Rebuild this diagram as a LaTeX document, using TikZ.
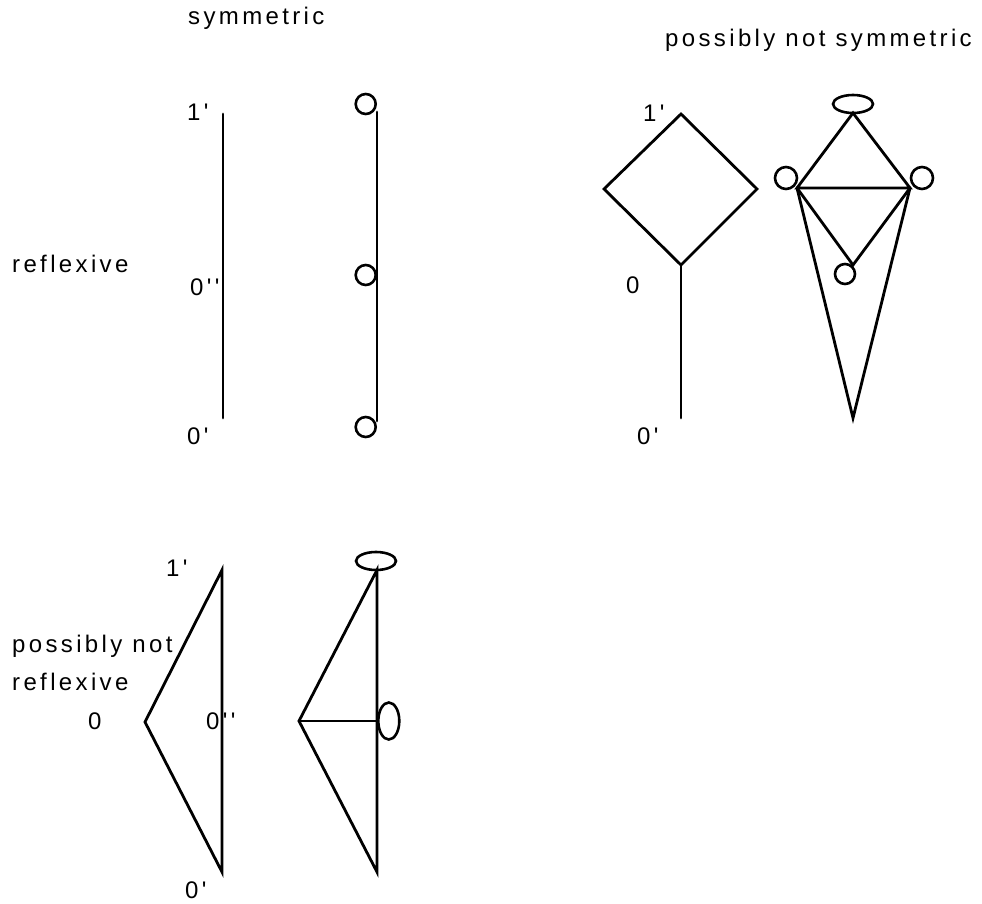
\documentclass[tikz,border=0pt]{standalone}
\usepackage{fontspec}
\newfontfamily\plotfont[LetterSpace=14,Ligatures=TeXOff]{Liberation Sans}
\usetikzlibrary{shapes.geometric}
\tikzset{
	edgeA/.style={
		line width=2.8pt, line cap=round, line join=miter,
	},
	loopC/.style={
		draw, circle, line width=2.6pt, minimum size=20pt, inner sep=0pt,
	},
	loopE/.style={
		draw, ellipse, line width=2.6pt, inner sep=0pt,
	},
	txtA/.style={
		font={\plotfont\fontsize{24}{28}\selectfont}, inner sep=0pt, anchor=base west,
	},
}

\begin{document}
\begin{tikzpicture}[x=1pt, y=-1pt]
\useasboundingbox (0,0) rectangle (982,904);
% headings
\node [txtA] (hsym) at (188,25) {symmetric};
\node [txtA] (hnsym) at (665,47) {possibly not symmetric};
\node [txtA] (hrefl) at (12,272) {reflexive};
\node [txtA] (hnrefl) at (12,652) {possibly not};
\node [txtA] (hnrefl2) at (12,690) {reflexive};
% symmetric, reflexive
\coordinate (a1) at (223,114);
\coordinate (a0) at (223,418);
\draw [edgeA] (a1) -- (a0);
\node [txtA] (la1) at (187,121) {1'};
\node [txtA] (la2) at (190,295) {0''};
\node [txtA] (la0) at (187,444) {0'};
\coordinate (b1) at (377,112);
\coordinate (b2) at (377,275);
\coordinate (b0) at (377,421);
\draw [edgeA] (b1) -- (b0);
\node [loopC, anchor=east] (cb1) at (b1 |- 0,104) {};
\node [loopC, anchor=east] (cb2) at (b2) {};
\node [loopC, anchor=east] (cb0) at (b0 |- 0,427) {};
% not symmetric, reflexive
\coordinate (c1) at (681,114);
\coordinate (cl) at (604,189);
\coordinate (cr) at (757,189);
\coordinate (c0) at (681,265);
\coordinate (cb) at (681,418);
\draw [edgeA] (c1) -- (cr) -- (c0) -- (cl) -- cycle;
\draw [edgeA] (c0) -- (cb);
\node [txtA] (lc1) at (643,122) {1'};
\node [txtA] (lc0) at (626,293) {0};
\node [txtA] (lcb) at (637,444) {0'};
\coordinate (d1) at (853,113);
\coordinate (dl) at (797,188);
\coordinate (dr) at (910,188);
\coordinate (dm) at (853,265);
\coordinate (db) at (853,418);
\draw [edgeA] (d1) -- (dl) -- (dr) -- cycle;
\draw [edgeA] (dl) -- (dm) -- (dr);
\draw [edgeA] (dl) -- (db) -- (dr);
\node [loopE, minimum width=40pt, minimum height=18pt] (ed1) at (853,104) {};
\node [loopC, minimum size=22pt] (cdl) at (786,178) {};
\node [loopC, minimum size=22pt] (cdr) at (922,178) {};
\node [loopC] (cdm) at (845,274) {};
% symmetric, not reflexive
\coordinate (e1) at (222,570);
\coordinate (el) at (145,722);
\coordinate (e0) at (222,872);
\draw [edgeA] (e1) -- (el) -- (e0) -- cycle;
\node [txtA] (le1) at (166,576) {1'};
\node [txtA] (lel) at (88,729) {0};
\node [txtA] (lem) at (206,729) {0''};
\node [txtA] (le0) at (185,898) {0'};
\coordinate (f1) at (377,570);
\coordinate (fl) at (299,721);
\coordinate (fm) at (377,721);
\coordinate (f0) at (377,872);
\draw [edgeA] (f1) -- (fl) -- (f0) -- cycle;
\draw [edgeA] (fl) -- (fm);
\node [loopE, minimum width=40pt, minimum height=18pt] (ef1) at (376,561) {};
\node [loopE, minimum width=21pt, minimum height=37pt, anchor=west] (efm) at (fm) {};
\end{tikzpicture}
\end{document}
